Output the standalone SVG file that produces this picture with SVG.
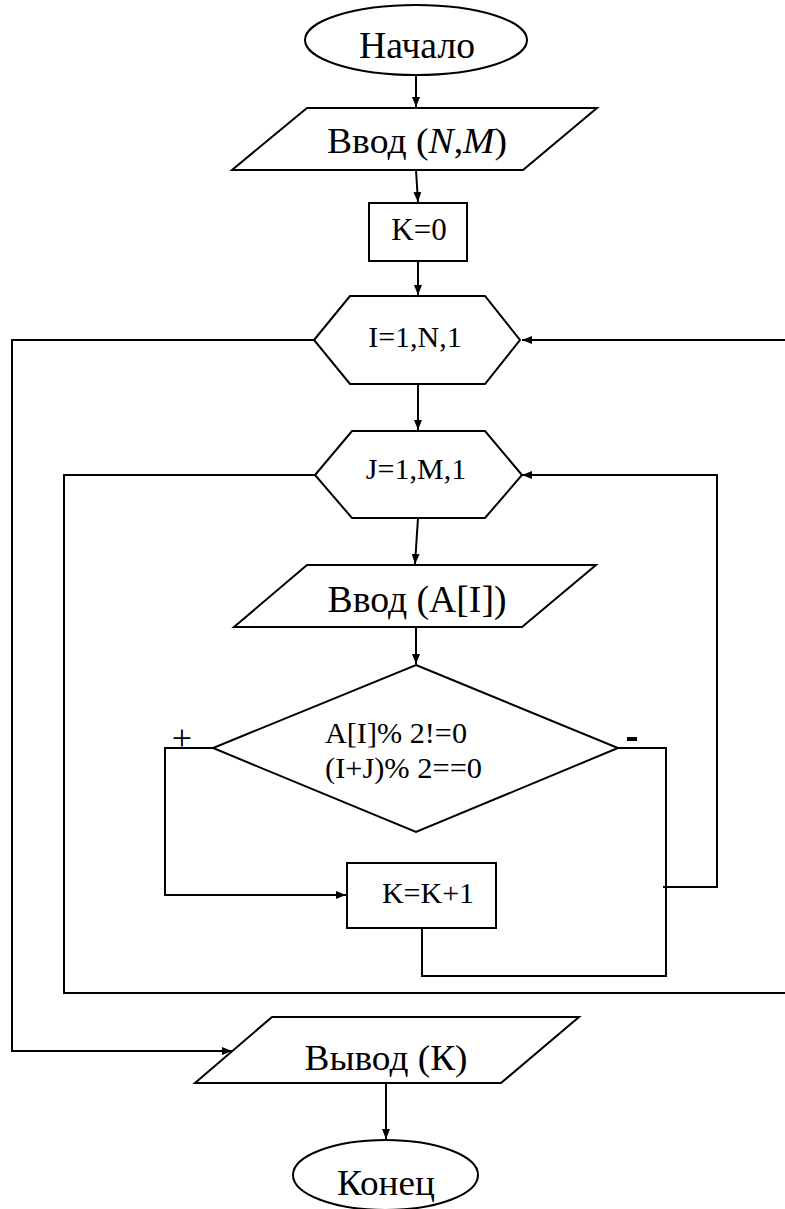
<svg xmlns="http://www.w3.org/2000/svg" width="785" height="1209" viewBox="0 0 785 1209">
<style>
.s{fill:#fff;stroke:#000;stroke-width:2}
.c{fill:none;stroke:#000;stroke-width:2}
.t{font-family:"Liberation Serif","DejaVu Serif","Times New Roman",serif;fill:#000;text-anchor:middle}
</style>
<defs>
<marker id="a" viewBox="0 0 10 8" refX="10" refY="4" markerWidth="10" markerHeight="8" markerUnits="userSpaceOnUse" orient="auto">
<path d="M0,0 L10,4 L0,8 Z" fill="#000"/>
</marker>
</defs>
<rect width="785" height="1209" fill="#fff"/>
<g id="connectors">
<path class="c" d="M416,75 L416,107" marker-end="url(#a)"/>
<path class="c" d="M416,170 L418,202" marker-end="url(#a)"/>
<path class="c" d="M418,261 L418,295" marker-end="url(#a)"/>
<path class="c" d="M418,384 L418,430" marker-end="url(#a)"/>
<path class="c" d="M418,518 L415,564" marker-end="url(#a)"/>
<path class="c" d="M416,627 L416,664" marker-end="url(#a)"/>
<path class="c" d="M314,340 L12,340 L12,1051 L232,1051" marker-end="url(#a)"/>
<path class="c" d="M785,340 L522,340" marker-end="url(#a)"/>
<path class="c" d="M315,475 L64,475 L64,993 L785,993"/>
<path class="c" d="M663,887 L717,887 L717,475 L522,475" marker-end="url(#a)"/>
<path class="c" d="M213,748 L165,748 L165,895 L346,895" marker-end="url(#a)"/>
<path class="c" d="M618,748 L666,748 L666,976 L422,976 L422,928"/>
<path class="c" d="M386,1083 L386,1139" marker-end="url(#a)"/>
</g>
<g id="start">
<ellipse class="s" cx="416" cy="40" rx="111" ry="35"/>
<text class="t" x="417" y="58" font-size="37" textLength="116" lengthAdjust="spacingAndGlyphs">Начало</text>
</g>
<g id="input1">
<polygon class="s" points="307,108 597,108 523,170 232,170"/>
<text class="t" x="417" y="153" font-size="36" textLength="180" lengthAdjust="spacingAndGlyphs">Ввод (<tspan font-style="italic">N</tspan>,<tspan font-style="italic">M</tspan>)</text>
</g>
<g id="init">
<rect class="s" x="369" y="203" width="98" height="58"/>
<text class="t" x="419" y="240" font-size="31">K=0</text>
</g>
<g id="loopI">
<polygon class="s" points="314,340 350,296 485,296 520,340 485,384 350,384"/>
<text class="t" x="415" y="347" font-size="30">I=1,N,1</text>
</g>
<g id="loopJ">
<polygon class="s" points="315,475 352,431 485,431 522,475 485,518 352,518"/>
<text class="t" x="416" y="479" font-size="30">J=1,M,1</text>
</g>
<g id="input2">
<polygon class="s" points="307,565 596,565 522,627 234,627"/>
<text class="t" x="417" y="612" font-size="37" textLength="179" lengthAdjust="spacingAndGlyphs">Ввод (A[I])</text>
</g>
<g id="decision">
<polygon class="s" points="416,665 618,748 416,832 213,748"/>
<text class="t" x="325" y="743" font-size="29" style="text-anchor:start" textLength="142" lengthAdjust="spacingAndGlyphs">A[I]% 2!=0</text>
<text class="t" x="325" y="778" font-size="29" style="text-anchor:start" textLength="157" lengthAdjust="spacingAndGlyphs">(I+J)% 2==0</text>
<text class="t" x="182" y="750" font-size="36">+</text>
<rect x="627" y="737" width="10" height="4" fill="#000"/>
</g>
<g id="increment">
<rect class="s" x="347" y="863" width="149" height="65"/>
<text class="t" x="428" y="903" font-size="30">K=K+1</text>
</g>
<g id="output">
<polygon class="s" points="272,1017 579,1017 501,1083 195,1083"/>
<text class="t" x="386" y="1070" font-size="36" textLength="163" lengthAdjust="spacingAndGlyphs">Вывод (К)</text>
</g>
<g id="end">
<ellipse class="s" cx="385.5" cy="1175" rx="92.5" ry="35"/>
<text class="t" x="386" y="1195" font-size="36" textLength="98" lengthAdjust="spacingAndGlyphs">Конец</text>
</g>
</svg>
